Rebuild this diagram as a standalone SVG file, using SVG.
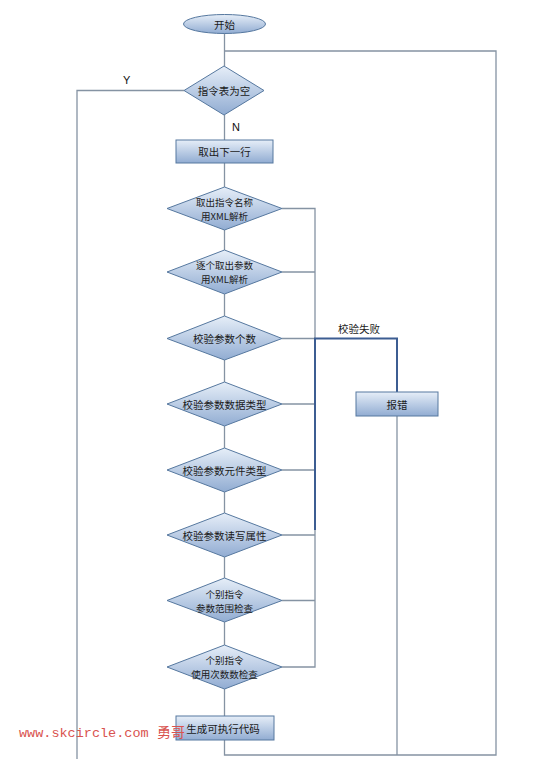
<svg xmlns="http://www.w3.org/2000/svg" width="549" height="759" viewBox="0 0 549 759">
<defs>
<linearGradient id="g" x1="0" y1="0" x2="0" y2="1">
<stop offset="0" stop-color="#e6eef8"/>
<stop offset="1" stop-color="#91acd2"/>
</linearGradient>
<style>
.n{fill:url(#g);stroke:#56789f;stroke-width:1}
.t{font-family:"Noto Sans CJK SC","Liberation Sans",sans-serif;font-size:10.5px;fill:#1a1a1a;text-anchor:middle;dominant-baseline:central}
.s{font-size:9.5px}
.c{fill:none;stroke:#8593a3;stroke-width:1.3}
.b{fill:none;stroke:#3c5d92;stroke-width:2}
.l{font-family:"Liberation Sans",sans-serif;font-size:11px;fill:#111}
</style>
</defs>
<rect width="549" height="759" fill="#fff"/>
<g id="connectors">
<path class="c" d="M224.5 33V66"/>
<path class="c" d="M224.5 115V140"/>
<path class="c" d="M224.5 163V187"/>
<path class="c" d="M224.5 230V250"/>
<path class="c" d="M224.5 294V316"/>
<path class="c" d="M224.5 360V382"/>
<path class="c" d="M224.5 426V448"/>
<path class="c" d="M224.5 492V513"/>
<path class="c" d="M224.5 557V578"/>
<path class="c" d="M224.5 622V645"/>
<path class="c" d="M224.5 689V716"/>
<path class="c" d="M184 90.5H77V759"/>
<path class="c" d="M224.5 740V755H496V51H224.5"/>
<path class="c" d="M282 208.5H315V667H282"/>
<path class="c" d="M282 272H315"/>
<path class="c" d="M282 338.5H315"/>
<path class="c" d="M282 404H315"/>
<path class="c" d="M282 470H315"/>
<path class="c" d="M282 535H315"/>
<path class="c" d="M282 600.5H315"/>
<path class="c" d="M397 416V755"/>
<path class="b" d="M315 530V338.5H397V392"/>
<text class="l" x="123" y="84">Y</text>
<text class="l" x="232" y="131">N</text>
<text class="t" x="359" y="328">校验失败</text>
</g>
<g id="start"><ellipse class="n" cx="224.5" cy="24" rx="41" ry="9.5"/><text class="t" x="224.5" y="24">开始</text></g>
<g id="empty"><polygon class="n" points="224,66 264,90.5 224,115 184,90.5"/><text class="t" x="224" y="90.5">指令表为空</text></g>
<g id="next"><rect class="n" x="176" y="140" width="97" height="23"/><text class="t" x="224.5" y="151.5">取出下一行</text></g>
<g id="d2"><polygon class="n" points="224.5,187 282,208.5 224.5,230 167,208.5"/><text class="t s" x="224.5" y="201.5">取出指令名称</text><text class="t s" x="224.5" y="215.5">用XML解析</text></g>
<g id="d3"><polygon class="n" points="224.5,250 282,272 224.5,294 167,272"/><text class="t s" x="224.5" y="265">逐个取出参数</text><text class="t s" x="224.5" y="279">用XML解析</text></g>
<g id="d4"><polygon class="n" points="224.5,316 282,338.5 224.5,360 167,338.5"/><text class="t" x="224.5" y="338.5">校验参数个数</text></g>
<g id="d5"><polygon class="n" points="224.5,382 282,404 224.5,426 167,404"/><text class="t" x="224.5" y="404">校验参数数据类型</text></g>
<g id="d6"><polygon class="n" points="224.5,448 282,470 224.5,492 167,470"/><text class="t" x="224.5" y="470">校验参数元件类型</text></g>
<g id="d7"><polygon class="n" points="224.5,513 282,535 224.5,557 167,535"/><text class="t" x="224.5" y="535">校验参数读写属性</text></g>
<g id="d8"><polygon class="n" points="224.5,578 282,600.5 224.5,622 167,600.5"/><text class="t s" x="224.5" y="593.5">个别指令</text><text class="t s" x="224.5" y="607.5">参数范围检查</text></g>
<g id="d9"><polygon class="n" points="224.5,645 282,667 224.5,689 167,667"/><text class="t s" x="224.5" y="660">个别指令</text><text class="t s" x="224.5" y="674">使用次数数检查</text></g>
<g id="gen"><rect class="n" x="176" y="716" width="98" height="24"/><text class="t" x="223" y="728">生成可执行代码</text></g>
<g id="err"><rect class="n" x="356" y="392" width="82" height="24"/><text class="t" x="397" y="404">报错</text></g>
<g id="watermark"><text x="19" y="737" font-family="'Liberation Mono',monospace" font-size="13.5" fill="#d9534f">www.skcircle.com</text><text x="157" y="737" font-family="'Noto Sans CJK SC',sans-serif" font-size="14" fill="#d9534f">勇哥</text></g>
</svg>
